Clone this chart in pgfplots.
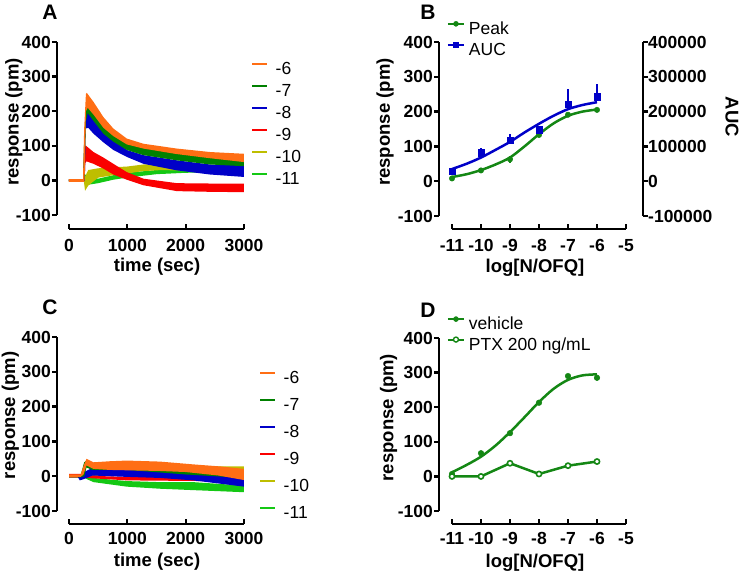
\documentclass[border=0pt]{standalone}
\usepackage{fontspec}
\setmainfont{Liberation Sans}
\usepackage{pgfplots}
\pgfplotsset{compat=1.18}

\definecolor{cO}{RGB}{255,110,20}
\definecolor{cG}{RGB}{0,128,0}
\definecolor{cB}{RGB}{0,0,200}
\definecolor{cR}{RGB}{250,0,0}
\definecolor{cY}{RGB}{190,190,0}
\definecolor{cL}{RGB}{20,200,20}
\definecolor{cPk}{RGB}{20,135,20}

\pgfplotsset{
  gp/.style={
    scale only axis,
    axis lines=left,
    axis line style={-, line width=2.3pt, black},
    xtick align=inside,
    ytick align=outside,
    major tick length=5pt,
    tick style={line width=2.3pt, black},
    /pgf/number format/assume math mode=true,
    /pgf/number format/fixed,
    /pgf/number format/1000 sep={},
    ticklabel style={font=\fontsize{17.5}{20}\selectfont\bfseries},
    yticklabel style={inner sep=1pt},
    label style={font=\fontsize{18.5}{21}\selectfont\bfseries, inner sep=0pt},
    clip=false,
    ymin=-100, ymax=400, ytick={-100,0,...,400},
  },
  band/.style={fill=#1, draw=none, forget plot},
  bandlegend/.style={
    legend cell align=left,
    legend style={draw=none, fill=none, inner sep=0pt, column sep=7pt,
      font=\fontsize{17.5}{20}\selectfont,
      nodes={inner sep=0pt, text height=12.5pt, text depth=3.5pt}},
    legend image code/.code={\draw[##1, line width=2.5pt] (0pt,6pt) -- (15pt,6pt);},
  },
  mklegend/.style={
    legend cell align=left,
    legend style={draw=none, fill=none, inner sep=0pt, column sep=4pt, row sep=4pt,
      font=\fontsize{17.5}{20}\selectfont,
      nodes={inner sep=0pt, text height=12.5pt, text depth=3.5pt}},
    legend image code/.code={\draw[mark repeat=2,mark phase=2,##1] plot coordinates {(0pt,6pt) (8pt,6pt) (16pt,6pt)};},
  },
}

\begin{document}
\begin{tikzpicture}
\useasboundingbox (0pt,0pt) rectangle (740pt,-579pt);

% ---------------- Panel A ----------------
\begin{axis}[gp, bandlegend, at={(69pt,-215pt)}, anchor=south west, width=175pt, height=173pt,
  xmin=0, xmax=3000, xtick={0,1000,2000,3000},
  axis x line shift=14pt, axis y line shift=12pt,
  xticklabel style={inner sep=0pt, yshift=-10pt},
  xlabel={time (sec)}, ylabel={response (pm)},
  xlabel style={at={(axis description cs:0.503,-0.30)}, anchor=center},
  ylabel style={at={(axis description cs:-0.315,0.538)}, anchor=center},
  legend style={at={(axis description cs:1.04,0.885)}, anchor=north west, row sep=6pt},
]
\addplot[band=cL] coordinates {(0,2)(240,2)(260,10)(280,17)(330,10)(500,5)(760,15)(990,22)(1500,30)(2000,35)(3000,38)
  (3000,25)(2000,22)(1500,18)(990,8)(760,2)(500,-8)(350,-12)(290,-5)(270,0)(0,-2)};
\addplot[band=cY] coordinates {(0,3)(240,3)(260,5)(330,30)(500,35)(760,38)(990,40)(1275,46)(1600,49)(2000,46)(3000,40)
  (3000,25)(2000,28)(1600,30)(1275,27)(990,20)(760,15)(500,8)(330,-15)(275,-30)(255,-3)(0,-3)};
\addplot[band=cR] coordinates {(0,3)(255,3)(268,95)(285,101)(420,82)(590,66)(760,48)(990,24)(1275,5)(1850,-8)(2420,-9)(3000,-9)
  (3000,-34)(2420,-33)(1850,-31)(1275,-14)(990,2)(760,17)(590,34)(420,48)(300,55)(280,50)(268,0)(255,-3)(0,-3)};
\addplot[band=cB] coordinates {(0,3)(240,3)(262,100)(300,200)(420,185)(590,150)(760,120)(990,88)(1275,73)(1850,58)(2420,46)(3000,43)
  (3000,10)(2420,17)(1850,29)(1275,48)(990,68)(760,88)(590,110)(420,135)(330,152)(285,150)(272,0)(255,-3)(0,-3)};
\addplot[band=cG] coordinates {(0,3)(240,3)(260,120)(295,215)(420,200)(590,165)(760,140)(990,115)(1275,100)(1850,85)(2420,75)(3000,65)
  (3000,41)(2420,46)(1850,58)(1275,73)(990,88)(760,112)(590,135)(420,172)(320,195)(290,170)(265,0)(255,-3)(0,-3)};
\addplot[band=cO] coordinates {(0,4)(240,4)(260,150)(290,250)(305,253)(420,227)(590,183)(760,150)(990,121)(1275,106)(1850,92)(2420,82)(3000,77)
  (3000,53)(2420,64)(1850,76)(1275,92)(990,104)(760,128)(590,152)(420,190)(320,210)(290,200)(268,0)(255,-4)(0,-4)};
\addlegendimage{cO}\addlegendentry{-6}
\addlegendimage{cG}\addlegendentry{-7}
\addlegendimage{cB}\addlegendentry{-8}
\addlegendimage{cR}\addlegendentry{-9}
\addlegendimage{cY}\addlegendentry{-10}
\addlegendimage{cL}\addlegendentry{-11}
\end{axis}

% ---------------- Panel C ----------------
\begin{axis}[gp, bandlegend, at={(69pt,-511pt)}, anchor=south west, width=175pt, height=174pt,
  xmin=0, xmax=3000, xtick={0,1000,2000,3000},
  axis x line shift=13pt, axis y line shift=12pt,
  xticklabel style={inner sep=0pt, yshift=-8pt},
  xlabel={time (sec)}, ylabel={response (pm)},
  xlabel style={at={(axis description cs:0.503,-0.293)}, anchor=center},
  ylabel style={at={(axis description cs:-0.335,0.55)}, anchor=center},
  legend style={at={(axis description cs:1.086,0.805)}, anchor=north west, row sep=11pt},
]
\addplot[band=cL] coordinates {(0,2)(250,2)(300,0)(420,-5)(990,-14)(1560,-17)(2130,-17)(3000,-27)
  (3000,-46)(2130,-40)(1560,-36)(990,-30)(420,-17)(300,-8)(250,-2)(0,-2)};
\addplot[band=cY] coordinates {(0,2)(250,2)(500,15)(1000,25)(2000,26)(2500,28)(3000,28)
  (3000,14)(2500,14)(2000,10)(1000,8)(500,0)(250,-2)(0,-2)};
\addplot[band=cR] coordinates {(0,7)(200,7)(300,4)(600,0)(1000,-2)(3000,-2)
  (3000,-15)(1000,-12)(600,-8)(300,-5)(200,-4)(0,-4)};
\addplot[band=cB] coordinates {(0,2)(150,2)(180,-3)(260,12)(400,24)(700,20)(1000,18)(1560,14)(2130,7)(3000,-1)
  (3000,-30)(2130,-12)(1560,-5)(1000,-2)(700,0)(400,2)(260,-8)(185,-12)(150,-2)(0,-2)};
\addplot[band=cG] coordinates {(0,3)(200,3)(260,40)(300,45)(400,38)(1000,38)(2000,28)(3000,15)
  (3000,-5)(2000,5)(1000,18)(400,18)(300,25)(260,0)(200,-3)(0,-3)};
\addplot[band=cO] coordinates {(0,5)(200,5)(250,30)(300,50)(420,40)(700,43)(990,45)(1560,42)(2130,34)(2600,28)(3000,21)
  (3000,-11)(2560,2)(2000,12)(1560,15)(990,17)(700,18)(420,21)(300,31)(250,5)(200,-2)(0,-2)};
\addlegendimage{cO}\addlegendentry{-6}
\addlegendimage{cG}\addlegendentry{-7}
\addlegendimage{cB}\addlegendentry{-8}
\addlegendimage{cR}\addlegendentry{-9}
\addlegendimage{cY}\addlegendentry{-10}
\addlegendimage{cL}\addlegendentry{-11}
\end{axis}

% ---------------- Panel B ----------------
\begin{axis}[gp, mklegend, at={(452pt,-216pt)}, anchor=south west, width=174pt, height=174pt,
  xmin=-11, xmax=-5, xtick={-11,...,-5},
  axis x line shift=13pt, axis y line shift=13pt,
  xticklabel style={inner sep=0pt, yshift=-10pt},
  xlabel={log[N/OFQ]}, ylabel={response (pm)},
  xlabel style={at={(axis description cs:0.477,-0.30)}, anchor=center},
  ylabel style={at={(axis description cs:-0.385,0.54)}, anchor=center},
  legend style={at={(axis description cs:-0.03,1.12)}, anchor=north west},
]
\addplot[cPk, line width=2.5pt, smooth, forget plot] coordinates {(-11,12)(-10.5,20)(-10,32)(-9.5,48)(-9,68)(-8.5,100)(-8,135)(-7.5,166)(-7,188)(-6.5,200)(-6,206)};
\addplot[cPk, only marks, mark=*, mark size=2.7pt, mark options={line width=0.5pt}, forget plot,
  error bars/.cd, y dir=both, y explicit, error mark=none, error bar style={line width=2pt}]
  coordinates {(-11,8)+-(0,3) (-10,31)+-(0,4) (-9,63)+-(0,10) (-8,133)+-(0,6) (-7,191)+-(0,5) (-6,205)+-(0,5)};
\addlegendimage{cPk, line width=2pt, mark=*, mark size=2.5pt, mark options={line width=0.5pt}}\addlegendentry{Peak}
\addlegendimage{cB, line width=2pt, mark=square*, mark size=2.7pt, mark options={line width=0.5pt}}\addlegendentry{AUC}
\end{axis}
\begin{axis}[gp, at={(452pt,-216pt)}, anchor=south west, width=174pt, height=174pt,
  xmin=-11, xmax=-5, axis x line=none, axis y line=right,
  axis line style={-, line width=2.3pt, black},
  y axis line style={-},
  ytick align=outside,
  ymin=-100000, ymax=400000, ytick={-100000,0,100000,200000,300000,400000},
  scaled y ticks=false, axis y line shift=17pt,
  yticklabel style={/pgf/number format/fixed, /pgf/number format/precision=0, inner sep=0pt},
  ylabel={AUC},
  ylabel style={at={(axis description cs:1.609,0.569)}, anchor=center, rotate=180,
    font=\fontsize{18.5}{21}\selectfont\bfseries},
]
\addplot[cB, line width=2.5pt, smooth] coordinates {(-11,35000)(-10.5,50000)(-10,68000)(-9.5,90000)(-9,113000)(-8.5,140000)(-8,165000)(-7.5,188000)(-7,207000)(-6.5,219000)(-6,227000)};
\addplot[cB, only marks, mark=square*, mark size=3.2pt, mark options={line width=0.5pt},
  error bars/.cd, y dir=plus, y explicit, error mark=none, error bar style={line width=2pt}]
  coordinates {(-11,29000)+-(0,3000) (-10,82000)+-(0,12000) (-9,118000)+-(0,19000) (-8,148000)+-(0,8000) (-7,222000)+-(0,43000) (-6,243000)+-(0,35000)};
\end{axis}

% ---------------- Panel D ----------------
\begin{axis}[gp, mklegend, at={(452pt,-511pt)}, anchor=south west, width=174pt, height=173pt,
  xmin=-11, xmax=-5, xtick={-11,...,-5},
  axis x line shift=13pt, axis y line shift=13pt,
  xticklabel style={inner sep=0pt, yshift=-8pt},
  xlabel={log[N/OFQ]}, ylabel={response (pm)},
  xlabel style={at={(axis description cs:0.477,-0.30)}, anchor=center},
  ylabel style={at={(axis description cs:-0.365,0.54)}, anchor=center},
  legend style={at={(axis description cs:-0.03,1.125)}, anchor=north west},
]
\addplot[cPk, line width=2.5pt, smooth, forget plot] coordinates {(-11,12)(-10.5,33)(-10,57)(-9.5,89)(-9,128)(-8.5,171)(-8,215)(-7.5,253)(-7,279)(-6.5,292)(-6,295)};
\addplot[cPk, only marks, mark=*, mark size=2.8pt, mark options={line width=0.5pt}, forget plot]
  coordinates {(-11,7)(-10,67)(-9,125)(-8,213)(-7,290)(-6,285)};
\addplot[cPk, line width=2.5pt, mark=*, mark size=2.6pt, mark options={fill=white, line width=1.6pt}, forget plot]
  coordinates {(-11,0)(-10,0)(-9,38)(-8,7)(-7,31)(-6,43)};
\addlegendimage{cPk, line width=2pt, mark=*, mark size=2.5pt, mark options={line width=0.5pt}}\addlegendentry{vehicle}
\addlegendimage{cPk, line width=2pt, mark=*, mark size=2.5pt, mark options={fill=white, line width=1.4pt}}\addlegendentry{PTX 200 ng/mL}
\end{axis}

% panel letters
\node[font=\fontsize{21}{24}\selectfont\bfseries] at (50pt,-12pt) {A};
\node[font=\fontsize{21}{24}\selectfont\bfseries] at (428pt,-12pt) {B};
\node[font=\fontsize{21}{24}\selectfont\bfseries] at (50pt,-307pt) {C};
\node[font=\fontsize{21}{24}\selectfont\bfseries] at (428pt,-310pt) {D};
\end{tikzpicture}
\end{document}
